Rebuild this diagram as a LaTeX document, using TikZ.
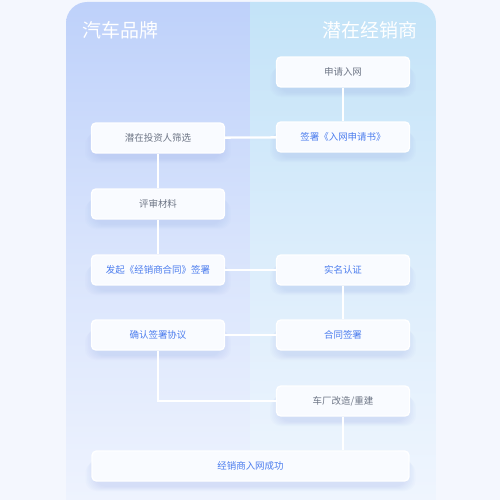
\documentclass[tikz,border=0pt]{standalone}
\usepackage{fontspec}
\setmainfont{Noto Sans CJK SC}
\definecolor{pagebg}{HTML}{F4F7FE}
\definecolor{lefttop}{HTML}{BED1FA}
\definecolor{leftbot}{HTML}{EEF3FE}
\definecolor{righttop}{HTML}{C3E3F8}
\definecolor{rightbot}{HTML}{EFF5FE}
\definecolor{boxfill}{HTML}{F9FBFF}
\definecolor{txtgray}{HTML}{6E7686}
\definecolor{txtblue}{HTML}{4C7DEE}
\definecolor{shadowc}{HTML}{9FB4EA}
\pgfdeclarelayer{bg}
\pgfdeclarelayer{shadow}
\pgfsetlayers{bg,shadow,main}
\tikzset{
  card/.style={draw=white, line width=0.8pt, fill=boxfill, rounded corners=2.5pt,
    minimum width=2.66cm, minimum height=0.6cm, inner sep=0pt, font=\fontsize{5.4pt}{6pt}\selectfont},
  graytxt/.style={text=txtgray},
  bluetxt/.style={text=txtblue},
  link/.style={draw=white, line width=1.3pt},
  head/.style={text=white, font=\fontsize{10.8pt}{12pt}\selectfont, inner sep=0pt}
}
\newcommand{\softshadow}[1]{%
  \foreach \k in {1,...,7}{%
    \fill[shadowc, opacity=0.045, rounded corners=6pt]
      ([xshift=-\k*0.9pt+3pt, yshift=-2.5pt-\k*0.4pt]#1.south west) rectangle
      ([xshift=\k*0.9pt-3pt, yshift=-\k*1.1pt+1pt]#1.north east);
  }%
}
\begin{document}
\begin{tikzpicture}[x=0.02cm,y=-0.02cm]
\useasboundingbox (0,0) rectangle (500,500);
\begin{pgfonlayer}{bg}
\fill[pagebg] (0,0) rectangle (500,500);
\begin{scope}
\clip[rounded corners=12pt] (66,2) rectangle (436,540);
\shade[top color=lefttop, bottom color=leftbot, middle color={lefttop!45!leftbot}] (66,2) rectangle (250,500);
\shade[top color=righttop, bottom color=rightbot, middle color={righttop!45!rightbot}] (250,2) rectangle (436,500);
\end{scope}
\end{pgfonlayer}
\node[head, anchor=west] (h1) at (82,30) {汽车品牌};
\node[head, anchor=east] (h2) at (418,30) {潜在经销商};
% nodes
\node[card, graytxt] (apply) at (343,72) {申请入网};
\node[card, bluetxt] (signapp) at (343,137) {签署《入网申请书》};
\node[card, graytxt] (screen) at (158,138) {潜在投资人筛选};
\node[card, graytxt] (review) at (158,204) {评审材料};
\node[card, bluetxt] (launch) at (158,270) {发起《经销商合同》签署};
\node[card, bluetxt] (realname) at (343,270) {实名认证};
\node[card, bluetxt] (confirm) at (158,335) {确认签署协议};
\node[card, bluetxt] (contract) at (343,335) {合同签署};
\node[card, graytxt] (rebuild) at (343,401) {车厂改造/重建};
\node[card, bluetxt, minimum width=6.34cm] (success) at (250.5,466) {经销商入网成功};
\begin{pgfonlayer}{shadow}
\foreach \n in {apply,signapp,screen,review,launch,realname,confirm,contract,rebuild,success}{\softshadow{\n}}
\draw[link] (apply) -- (signapp);
\draw[link] (screen) -- (signapp);
\draw[link] (screen) -- (review);
\draw[link] (review) -- (launch);
\draw[link] (launch) -- (realname);
\draw[link] (realname) -- (contract);
\draw[link] (confirm) -- (contract);
\draw[link] (confirm.south) |- (rebuild.west);
\draw[link] (rebuild.south) -- (rebuild.south |- success.north);
\end{pgfonlayer}
\end{tikzpicture}
\end{document}
